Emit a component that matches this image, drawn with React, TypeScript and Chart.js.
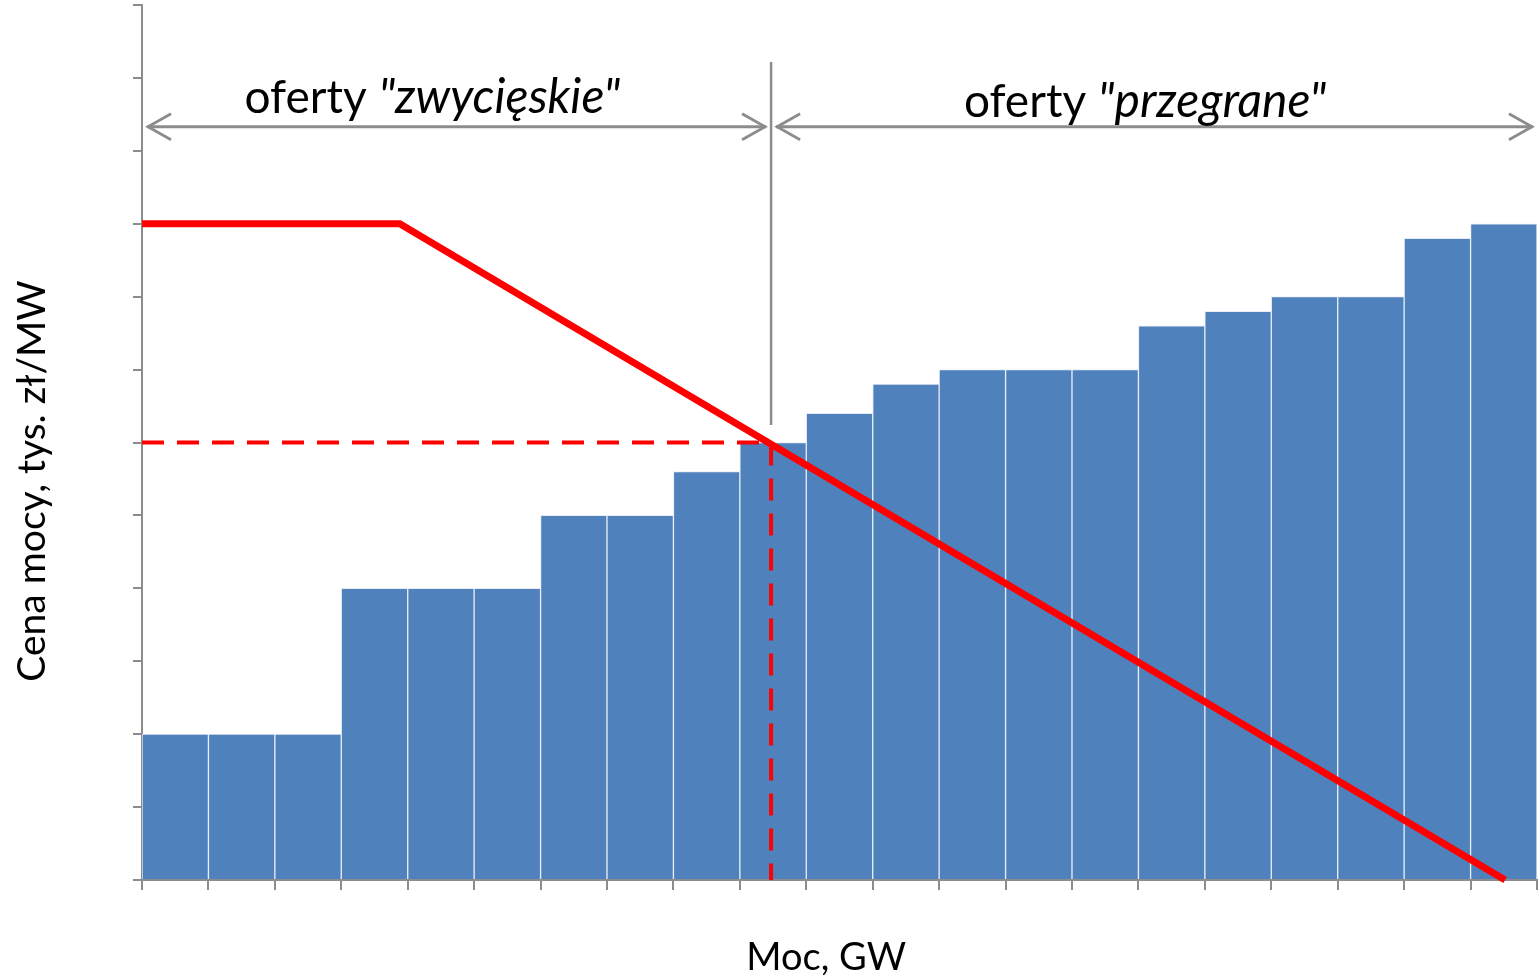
import React, { useEffect, useRef } from "react";
import { Chart, registerables } from "chart.js";

Chart.register(...registerables);

// Offer prices (sorted supply curve), one bar per offer block
const offerPrices = [2, 2, 2, 4, 4, 4, 5, 5, 5.6, 6, 6.4, 6.8, 7, 7, 7, 7.6, 7.8, 8, 8, 8.8, 9];
// Demand curve points
const demandX = [0, 3.88, 20.52];
const demandY = [9, 9, 0];
// Clearing point
const clearingX = 9.47;
const clearingY = 6;
// Annotation texts
const winLabelNormal = "oferty ";
const winLabelItalic = "\"zwycięskie\"";
const loseLabelNormal = "oferty ";
const loseLabelItalic = "\"przegrane\"";
const yTitle = "Cena mocy, tys. zł/MW";
const xTitle = "Moc, GW";

const FONT = "Lato, 'Open Sans', sans-serif";
const GRAY = "#8c8c8c";

export default function App() {
  const ref = useRef<HTMLCanvasElement | null>(null);
  useEffect(() => {
    const canvas = ref.current;
    if (!canvas) return;

    const annot = {
      id: "annot",
      afterDraw(chart: any) {
        const { ctx, scales, chartArea } = chart;
        const xs = scales.x;
        const ys = scales.y;
        const nBars = offerPrices.length;
        ctx.save();
        // vertical gray divider
        const cx = xs.getPixelForValue(clearingX);
        ctx.strokeStyle = GRAY;
        ctx.lineWidth = 2.5;
        ctx.beginPath();
        ctx.moveTo(cx, ys.getPixelForValue(11.22));
        ctx.lineTo(cx, ys.getPixelForValue(6.24));
        ctx.stroke();

        const arrowY = ys.getPixelForValue(10.33);
        const drawArrow = (x1: number, x2: number) => {
          ctx.strokeStyle = GRAY;
          ctx.lineWidth = 3;
          ctx.beginPath();
          ctx.moveTo(x1, arrowY);
          ctx.lineTo(x2, arrowY);
          ctx.stroke();
          ctx.lineWidth = 2.8;
          ctx.beginPath();
          ctx.moveTo(x1 + 24, arrowY - 13);
          ctx.lineTo(x1 + 1, arrowY);
          ctx.lineTo(x1 + 24, arrowY + 13);
          ctx.moveTo(x2 - 24, arrowY - 13);
          ctx.lineTo(x2 - 1, arrowY);
          ctx.lineTo(x2 - 24, arrowY + 13);
          ctx.stroke();
        };
        drawArrow(chartArea.left + 5, cx - 5);
        drawArrow(cx + 5, xs.getPixelForValue(nBars) - 4);

        const drawLabel = (center: number, y: number, a: string, b: string) => {
          ctx.fillStyle = "#000";
          ctx.textBaseline = "alphabetic";
          ctx.textAlign = "left";
          ctx.font = `46px ${FONT}`;
          const wa = ctx.measureText(a).width;
          ctx.font = `italic 48px ${FONT}`;
          const wb = ctx.measureText(b).width;
          const start = center - (wa + wb) / 2;
          ctx.font = `46px ${FONT}`;
          ctx.fillText(a, start, y);
          ctx.font = `italic 48px ${FONT}`;
          ctx.fillText(b, start + wa, y);
        };
        drawLabel(xs.getPixelForValue(4.37), 113, winLabelNormal, winLabelItalic);
        drawLabel(xs.getPixelForValue(15.1), 117, loseLabelNormal, loseLabelItalic);

        // axis titles
        ctx.fillStyle = "#000";
        ctx.font = `38px ${FONT}`;
        ctx.textAlign = "center";
        ctx.textBaseline = "middle";
        ctx.fillText(xTitle, xs.getPixelForValue(10.3), 958);
        ctx.font = `39px ${FONT}`;
        ctx.translate(32, 481);
        ctx.rotate(-Math.PI / 2);
        ctx.fillText(yTitle, 0, 0);
        ctx.restore();
      },
    };

    const chart = new Chart(canvas, {
      type: "bar",
      data: {
        datasets: [
          {
            type: "line",
            data: demandX.map((x, i) => ({ x, y: demandY[i] })),
            borderColor: "#ff0000",
            borderWidth: 7,
            pointRadius: 0,
            order: 0,
            clip: false,
          } as any,
          {
            type: "line",
            data: [
              { x: 0, y: clearingY },
              { x: clearingX, y: clearingY },
              { x: clearingX, y: 0 },
            ],
            borderColor: "#ff0000",
            borderWidth: 4,
            borderDash: [22, 13],
            pointRadius: 0,
            order: 1,
          } as any,
          {
            type: "bar",
            data: offerPrices.map((v, i) => ({ x: i + 0.5, y: v })),
            backgroundColor: "#4f81bd",
            borderColor: "#e6edf6",
            borderWidth: 1,
            borderSkipped: "bottom",
            barPercentage: 1,
            categoryPercentage: 1,
            order: 2,
          } as any,
        ],
      },
      options: {
        responsive: false,
        animation: false,
        layout: { padding: { top: 5, right: 3, left: 0, bottom: 0 } },
        plugins: { legend: { display: false }, tooltip: { enabled: false } },
        scales: {
          x: {
            type: "linear",
            offset: false,
            min: 0,
            max: offerPrices.length,
            ticks: { stepSize: 1, display: false },
            grid: { offset: false, drawOnChartArea: false, drawTicks: true, tickLength: 10, color: GRAY, lineWidth: 2 },
            border: { color: GRAY, width: 2 },
            afterFit: (s: any) => {
              s.height = 100;
            },
          },
          y: {
            min: 0,
            max: 12,
            ticks: { stepSize: 1, display: false },
            grid: { drawOnChartArea: false, drawTicks: true, tickLength: 9, color: GRAY, lineWidth: 2 },
            border: { color: GRAY, width: 2 },
            afterFit: (s: any) => {
              s.width = 142;
            },
          },
        },
      } as any,
      plugins: [annot],
    });
    return () => chart.destroy();
  }, []);

  return (
    <div style={{ position: "fixed", left: 0, top: 0, width: 1540, height: 980, background: "#fff" }}>
      <canvas ref={ref} width={1540} height={980} style={{ display: "block" }} />
    </div>
  );
}
